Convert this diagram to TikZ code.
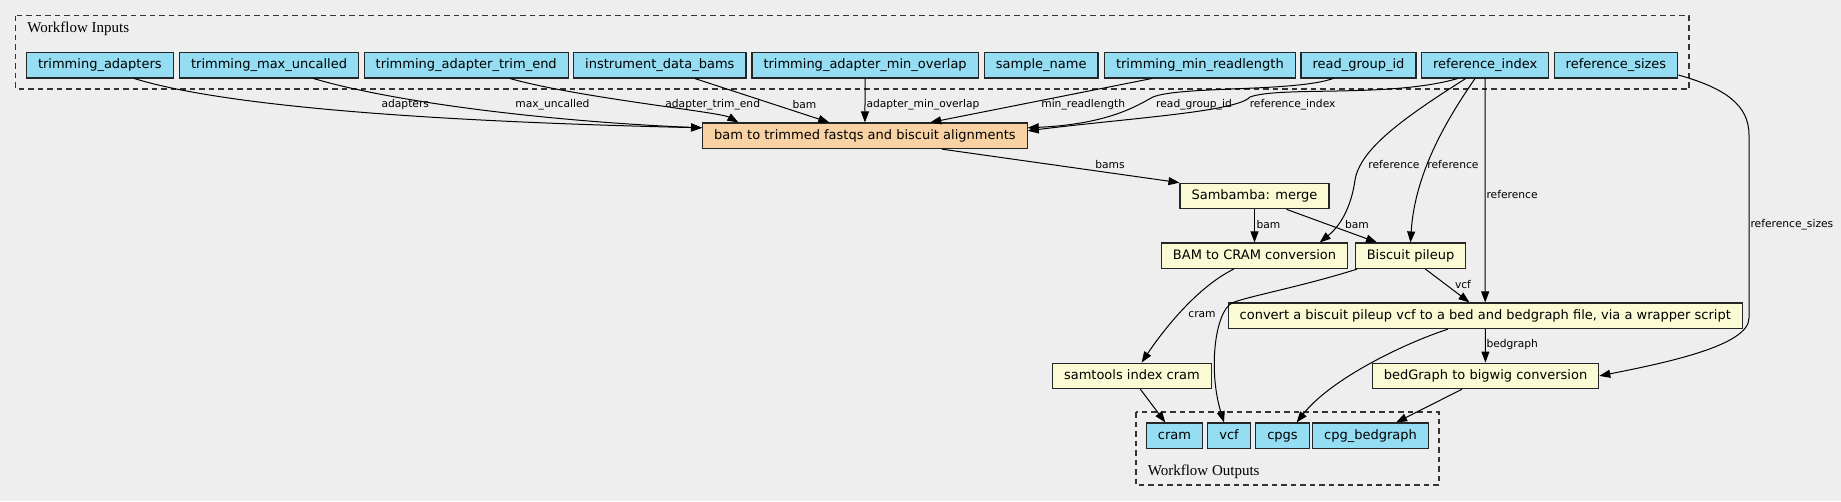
\documentclass[tikz,border=0pt]{standalone}
\usepackage{fontspec}
\setmainfont{DejaVu Sans}
\newfontfamily\clusterfont{Liberation Serif}
\usetikzlibrary{arrows.meta}
\definecolor{fondo}{HTML}{EEEEEE}
\definecolor{azul}{RGB}{148,221,243}
\definecolor{crema}{RGB}{250,250,212}
\definecolor{naranja}{RGB}{248,210,162}
\definecolor{borde}{HTML}{262626}
\begin{document}
\begin{tikzpicture}[   % opciones por defecto
  x=1pt, y=-1pt,     % una unidad = un pixel, y hacia abajo
  >={Triangle[length=11pt,width=8pt]}, % punta de flecha
  line width=1pt,
  font=\fontsize{13pt}{15pt}\selectfont
]
  \tikzstyle{caja}=[draw=borde, line width=1.2pt, minimum height=25.5pt,
    inner xsep=11.5pt, inner ysep=0pt, text height=9.5pt, text depth=3pt];
  \tikzstyle{inbox}=[caja, fill=azul];
  \tikzstyle{taskbox}=[caja, fill=crema];
  \tikzstyle{grupo}=[draw=black!80, line width=1.2pt, dash pattern=on 5.5pt off 4pt];
  \tikzstyle{lbl}=[font=\fontsize{10.7pt}{12pt}\selectfont, inner sep=0pt];
  \tikzstyle{titulo}=[anchor=west, inner sep=0pt, font=\clusterfont\fontsize{15pt}{17pt}\selectfont];
  \tikzstyle{conn}=[->, black];
  %
  % fondo y marco
  \fill[fondo] (0,0) rectangle (1841,501);
  \useasboundingbox (0,0) rectangle (1841,501);
  %
  % grupo de entradas
  \draw[grupo] (15.8,15.7) rectangle (1689,89);
  \node[titulo] (lin) at (26.9,29) {Workflow Inputs};
  \foreach \n/\x/\t in {ta/99.85/trimming\_adapters,
                        tmu/269.05/trimming\_max\_uncalled,
                        tate/466.2/trimming\_adapter\_trim\_end,
                        idb/659.8/instrument\_data\_bams,
                        tamo/865.1/trimming\_adapter\_min\_overlap,
                        sn/1041.25/sample\_name,
                        tmr/1199.9/trimming\_min\_readlength,
                        rgi/1358.45/read\_group\_id,
                        ri/1485.15/reference\_index,
                        rs/1615.95/reference\_sizes} {
    \node[inbox] (\n) at (\x,65.2) {\t};
  }
  %
  % tareas
  \node[caja, fill=naranja] (main) at (864.9,135.8) {bam to trimmed fastqs and biscuit alignments};
  \node[taskbox] (samb) at (1254.5,196) {Sambamba: merge};
  \node[taskbox] (b2c)  at (1254.5,255.8) {BAM to CRAM conversion};
  \node[taskbox] (bp)   at (1410.5,255.8) {Biscuit pileup};
  \node[taskbox] (conv) at (1485.2,315.8) {convert a biscuit pileup vcf to a bed and bedgraph file, via a wrapper script};
  \node[taskbox] (st)   at (1131.9,375.9) {samtools index cram};
  \node[taskbox] (bg)   at (1485.5,375.9) {bedGraph to bigwig conversion};
  %
  % grupo de salidas
  \draw[grupo] (1135.9,412) rectangle (1439,485);
  \node[titulo] (lout) at (1147.3,471.7) {Workflow Outputs};
  \foreach \n/\x/\t in {ocram/1174.5/cram, ovcf/1229/vcf,
                        ocpgs/1282.5/cpgs, obg/1370.5/cpg\_bedgraph} {
    \node[inbox] (\n) at (\x,435.8) {\t};
  }
  %
  % conexiones entradas - tarea principal
  \draw[conn] ([xshift=34.5pt]ta.south) .. controls (230,108) and (450,122) .. ([yshift=8pt]main.west)
    node[lbl] at (405.3,105) {adapters};
  \draw[conn] ([xshift=44.5pt]tmu.south) .. controls (400,104) and (560,122) .. ([yshift=8pt]main.west)
    node[lbl] at (552.4,105) {max\_uncalled};
  \draw[conn] ([xshift=43.8pt]tate.south) .. controls (580,98) and (720,112) .. ([xshift=-126.5pt]main.north)
    node[lbl] at (712.7,105) {adapter\_trim\_end};
  \draw[conn] ([xshift=35.1pt]idb.south) -- ([xshift=-35.6pt]main.north)
    node[lbl] at (804.4,105) {bam};
  \draw[conn] (tamo) -- (main)
    node[lbl, anchor=west] at (866,105) {adapter\_min\_overlap};
  \draw[conn] ([xshift=-48.3pt]tmr.south) -- ([xshift=65.3pt]main.north)
    node[lbl] at (1083.2,105) {min\_readlength};
  \draw[conn] ([xshift=-25.5pt]rgi.south) .. controls (1295,92) and (1180,86) .. (1153,97)
    .. controls (1138,105) and (1110,124) .. ([yshift=8pt]main.east)
    node[lbl] at (1194,105) {read\_group\_id};
  \draw[conn] ([xshift=-27.5pt]ri.south) .. controls (1390,98) and (1280,86) .. (1250,97)
    .. controls (1236,112) and (1130,118) .. ([yshift=5pt]main.east)
    node[lbl] at (1292.6,105) {reference\_index};
  %
  % conexiones de referencia
  \draw[conn] ([xshift=-19.5pt]ri.south) .. controls (1400,120) and (1360,150) .. (1355,180)
    .. controls (1350,215) and (1335,230) .. ([xshift=65.2pt]b2c.north)
    node[lbl] at (1394,164.7) {reference};
  \draw[conn] ([xshift=-10.2pt]ri.south) .. controls (1450,115) and (1415,170) .. (bp.north)
    node[lbl] at (1453,164.7) {reference};
  \draw[conn] (ri) -- (conv)
    node[lbl, anchor=west] at (1486,194.7) {reference};
  \draw[conn] ([yshift=-9.8pt]rs.east) .. controls (1725,88) and (1749,105) .. (1749,135)
    -- (1749,318) .. controls (1749,345) and (1670,362) .. (bg.east)
    node[lbl, anchor=west] at (1750,225) {reference\_sizes};
  %
  % conexiones entre tareas
  \draw[conn] ([xshift=77.1pt]main.south) -- (samb.north west)
    node[lbl] at (1110,164.7) {bams};
  \draw[conn] (samb) -- (b2c)
    node[lbl, anchor=west] at (1256,225) {bam};
  \draw[conn] ([xshift=32pt]samb.south) -- ([xshift=-33.5pt]bp.north)
    node[lbl] at (1357,225) {bam};
  \draw[conn] ([xshift=15pt]bp.south) -- ([xshift=-15.7pt]conv.north)
    node[lbl] at (1463,285) {vcf};
  \draw[conn] ([xshift=-20.8pt]b2c.south) .. controls (1195,288) and (1160,335) .. ([xshift=9.7pt]st.north)
    node[lbl] at (1202,315) {cram};
  \draw[conn] (conv) -- (bg)
    node[lbl, anchor=west] at (1486,344.3) {bedgraph};
  %
  % conexiones a salidas
  \draw[conn] ([xshift=-53.5pt]bp.south) .. controls (1300,287) and (1245,297) .. (1232,303)
    .. controls (1215,312) and (1208,370) .. ([xshift=-5pt]ovcf.north);
  \draw[conn] ([xshift=8.5pt]st.south) -- ([xshift=-9.2pt]ocram.north);
  \draw[conn] ([xshift=-37.4pt]conv.south) .. controls (1400,345) and (1330,380) .. ([xshift=14.1pt]ocpgs.north);
  \draw[conn] ([xshift=-23.6pt]bg.south) -- ([xshift=25.6pt]obg.north);
\end{tikzpicture}
\end{document}
